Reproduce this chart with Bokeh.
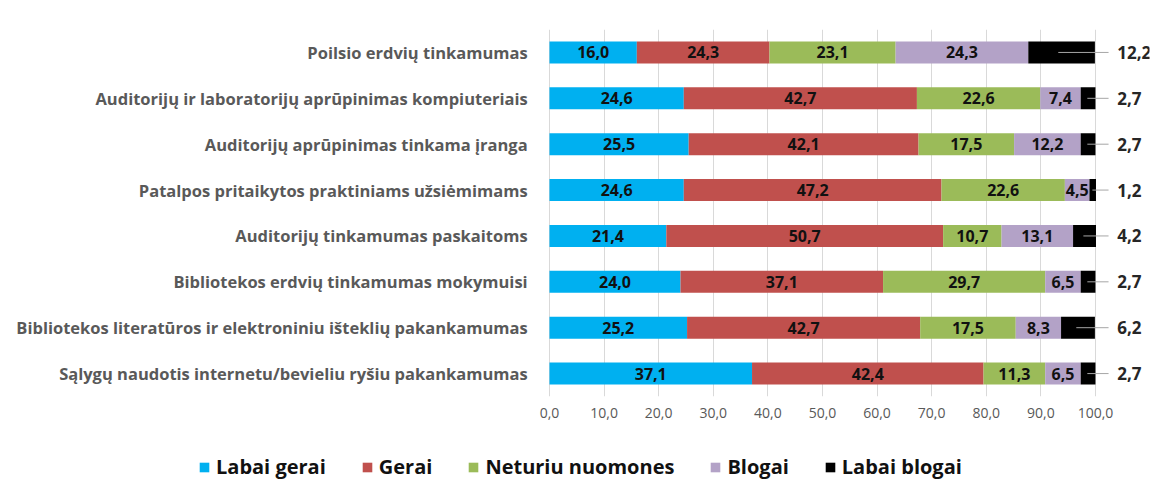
from bokeh.plotting import figure
from bokeh.layouts import column
from bokeh.models import (ColumnDataSource, FactorRange, Range1d, Legend, LegendItem,
                          FixedTicker)
from bokeh.embed import file_html
from bokeh.resources import INLINE
from bokeh.core.properties import value

categories = [
    "Poilsio erdvių tinkamumas",
    "Auditorijų ir laboratorijų aprūpinimas kompiuteriais",
    "Auditorijų aprūpinimas tinkama įranga",
    "Patalpos pritaikytos praktiniams užsiėmimams",
    "Auditorijų tinkamumas paskaitoms",
    "Bibliotekos erdvių tinkamumas mokymuisi",
    "Bibliotekos literatūros ir elektroniniu išteklių pakankamumas",
    "Sąlygų naudotis internetu/bevieliu ryšiu pakankamumas",
]
labai_gerai = [16.0, 24.6, 25.5, 24.6, 21.4, 24.0, 25.2, 37.1]
gerai = [24.3, 42.7, 42.1, 47.2, 50.7, 37.1, 42.7, 42.4]
neturiu_nuomones = [23.1, 22.6, 17.5, 22.6, 10.7, 29.7, 17.5, 11.3]
blogai = [24.3, 7.4, 12.2, 4.5, 13.1, 6.5, 8.3, 6.5]
labai_blogai = [12.2, 2.7, 2.7, 1.2, 4.2, 2.7, 6.2, 2.7]

series_names = ["Labai gerai", "Gerai", "Neturiu nuomones", "Blogai", "Labai blogai"]
series_keys = ["lg", "g", "nn", "b", "lb"]
series_values = [labai_gerai, gerai, neturiu_nuomones, blogai, labai_blogai]
colors = ["#00B0F0", "#C0504D", "#9BBB59", "#B3A2C7", "#000000"]

tick_values = [0, 10, 20, 30, 40, 50, 60, 70, 80, 90, 100]
tick_labels = ["0,0", "10,0", "20,0", "30,0", "40,0", "50,0", "60,0", "70,0", "80,0", "90,0", "100,0"]

FONT = "Open Sans"

def fmt(v):
    return f"{v:.1f}".replace(".", ",")

data = {"cat": categories}
for k, vals in zip(series_keys, series_values):
    data[k] = vals
source = ColumnDataSource(data)

# frame spans the full width; the value 0 sits at x=549 px (5.46 px per unit)
p = figure(
    width=1153, height=430,
    y_range=FactorRange(factors=list(reversed(categories)), range_padding=0),
    x_range=Range1d(-100.55, 109.9),
    y_axis_location=None,
    output_backend="svg", toolbar_location=None,
    min_border_left=0, min_border_right=4, min_border_top=29, min_border_bottom=34,
)
p.outline_line_color = None
p.background_fill_color = "white"
p.border_fill_color = "white"

renderers = p.hbar_stack(series_keys, y="cat", height=0.48, color=colors,
                         line_color=None, source=source)

# category labels (left of the bars)
p.text(x=[-4.0] * len(categories), y=categories, text=categories,
       text_align="right", text_baseline="middle",
       text_font=value(FONT), text_font_style="bold",
       text_font_size="16.5px", text_color="#595959")

# segment labels (all series except the last)
lx, ly, lt = [], [], []
for i, cat in enumerate(categories):
    cum = 0.0
    for si, vals in enumerate(series_values):
        v = vals[i]
        if si < len(series_values) - 1:
            lx.append(cum + v / 2)
            ly.append(cat)
            lt.append(fmt(v))
        cum += v
p.text(x="x", y="y", text="t",
       source=ColumnDataSource(dict(x=lx, y=ly, t=lt)),
       text_align="center", text_baseline="middle",
       text_font=value(FONT), text_font_style="bold",
       text_font_size="16px", text_color="#111111")

# leader lines + outside labels for the last series
x0s, x1s, oy, ot = [], [], [], []
for i, cat in enumerate(categories):
    total = sum(vals[i] for vals in series_values)
    lb = labai_blogai[i]
    x0s.append(total - lb * 0.55)
    x1s.append(102.4)
    oy.append(cat)
    ot.append(fmt(lb))
p.segment(x0="x0", y0="y", x1="x1", y1="y",
          source=ColumnDataSource(dict(x0=x0s, x1=x1s, y=oy)),
          line_color="#a6a6a6", line_width=1)
p.text(x=[104.0] * len(oy), y=oy, text=ot,
       text_align="left", text_baseline="middle",
       text_font=value(FONT), text_font_style="bold",
       text_font_size="17px", text_color="#262626")

# x axis
p.xaxis.ticker = FixedTicker(ticks=tick_values)
p.xaxis.major_label_overrides = {t: l for t, l in zip(tick_values, tick_labels)}
p.xaxis.axis_line_color = None
p.xaxis.major_tick_line_color = None
p.xaxis.minor_tick_line_color = None
p.xaxis.major_label_standoff = 5
p.xaxis.major_label_text_font = FONT
p.xaxis.major_label_text_font_size = "14px"
p.xaxis.major_label_text_color = "#595959"

p.xgrid.ticker = FixedTicker(ticks=tick_values)
p.xgrid.grid_line_color = "#d9d9d9"
p.ygrid.grid_line_color = None

# legend strip: zero-length swatch bars carry the series colours
pl = figure(
    width=1153, height=50, x_range=Range1d(0, 1), y_range=Range1d(0, 1),
    output_backend="svg", toolbar_location=None,
    x_axis_location=None, y_axis_location=None,
    min_border_left=0, min_border_right=4, min_border_top=0, min_border_bottom=0,
)
pl.outline_line_color = None
pl.xgrid.grid_line_color = None
pl.ygrid.grid_line_color = None
swatches = [pl.hbar(y=[0.5], left=[0], right=[0], height=0.5, color=c, line_color=None)
            for c in colors]

legend = Legend(
    items=[LegendItem(label=n, renderers=[r]) for n, r in zip(series_names, swatches)],
    orientation="horizontal",
    location=(198, 0),
    label_text_font=FONT, label_text_font_style="bold",
    label_text_font_size="20px", label_text_color="#111111",
    glyph_width=12, glyph_height=12, label_standoff=6, spacing=35,
    padding=0, margin=0,
    border_line_color=None, background_fill_alpha=0,
)
pl.add_layout(legend)

open("out.html", "w").write(file_html(column(p, pl, spacing=0), INLINE))
